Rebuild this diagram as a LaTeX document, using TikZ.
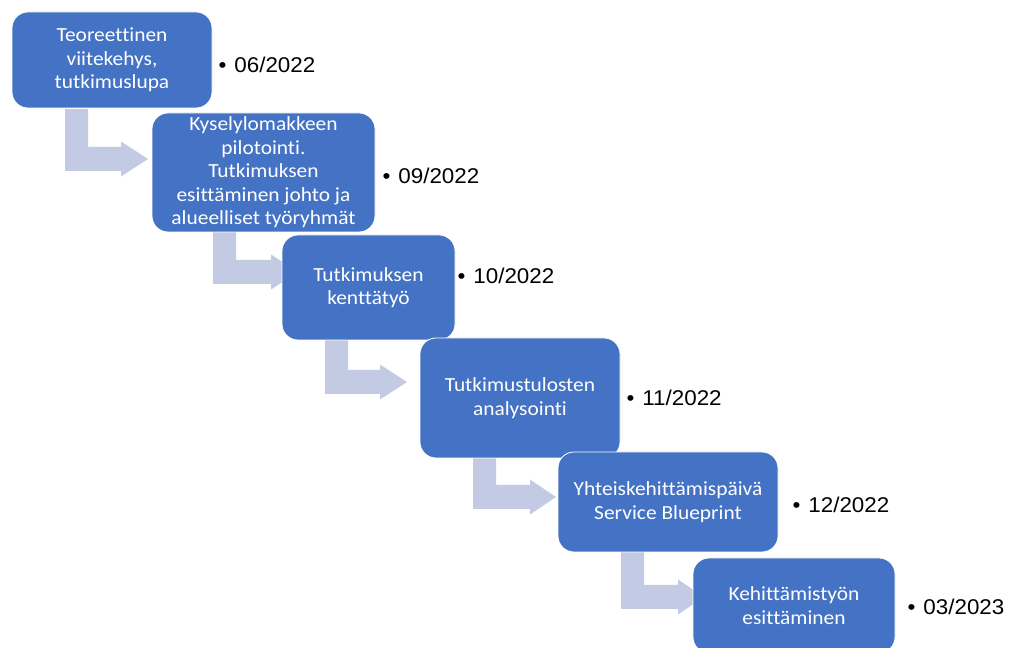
\documentclass[tikz,border=0pt]{standalone}
\usepackage{fontspec}
\setmainfont{Carlito}[FakeStretch=1.07, Ligatures={NoCommon}]
\newfontfamily\datefont{Liberation Sans}[FakeStretch=1.05]
\definecolor{boxblue}{HTML}{4472C4}
\definecolor{arrowblue}{HTML}{C3CBE4}
\newcommand{\bentarrow}[5]{% left x, top y, bar top y, head base x, tip x
  \fill[arrowblue] (#1,#2) -- ({#1+23},#2) -- ({#1+23},#3) -- (#4,#3)
    -- (#4,{#3+12-17.5}) -- (#5,{#3+12}) -- (#4,{#3+12+17.5})
    -- (#4,{#3+24}) -- (#1,{#3+24}) -- cycle;}
\begin{document}
\begin{tikzpicture}[x=0.75pt,y=-0.75pt,
  stepbox/.style={draw=white, line width=0.6pt, fill=boxblue, rounded corners=12pt,
    text=white, align=center, inner sep=0pt,
    font=\fontsize{15}{17.6}\selectfont},
  datelabel/.style={anchor=base west, inner sep=0pt,
    font=\datefont\fontsize{16}{19}\selectfont}]
\fill[white] (0,0) rectangle (1015,648);
\useasboundingbox (0,0) rectangle (1015,648);
\clip (0,0) rectangle (1015,648);
% bent block arrows
\bentarrow{65}{109}{147}{121}{148}
\bentarrow{213}{231}{260}{271}{298}
\bentarrow{325}{339}{370}{380}{407}
\bentarrow{473}{456}{485}{530}{556}
\bentarrow{621}{551}{585}{678}{704}
% boxes
\node[stepbox, minimum width=150pt, minimum height=72pt] (b1) at (112,60)
  {Teoreettinen\\viitekehys,\\tutkimuslupa};
\node[stepbox, minimum width=167.25pt, minimum height=89.25pt] (b2) at (263.5,172.5)
  {Kyselylomakkeen\\pilotointi.\\Tutkimuksen\\esittäminen johto ja\\alueelliset työryhmät};
\node[stepbox, minimum width=129.75pt, minimum height=78.75pt] (b3) at (368.5,287.5)
  {Tutkimuksen\\kenttätyö};
\node[stepbox, minimum width=150pt, minimum height=90pt] (b4) at (520,398)
  {Tutkimustulosten\\analysointi};
\node[stepbox, minimum width=165pt, minimum height=75pt] (b5) at (668,502)
  {Yhteiskehittämispäivä\\Service Blueprint};
\node[stepbox, minimum width=151.5pt, minimum height=71.25pt] (b6) at (794,605.5)
  {Kehittämistyön\\esittäminen};
% dates
\node[datelabel] (d1) at (218.3,72.5) {•\hspace{6pt}06/2022};
\node[datelabel] (d2) at (382.3,183.5) {•\hspace{6pt}09/2022};
\node[datelabel] (d3) at (457.3,284) {•\hspace{6pt}10/2022};
\node[datelabel] (d4) at (626.3,405.5) {•\hspace{6pt}11/2022};
\node[datelabel] (d5) at (792.3,513) {•\hspace{6pt}12/2022};
\node[datelabel] (d6) at (907.3,615) {•\hspace{6pt}03/2023};
\end{tikzpicture}
\end{document}
